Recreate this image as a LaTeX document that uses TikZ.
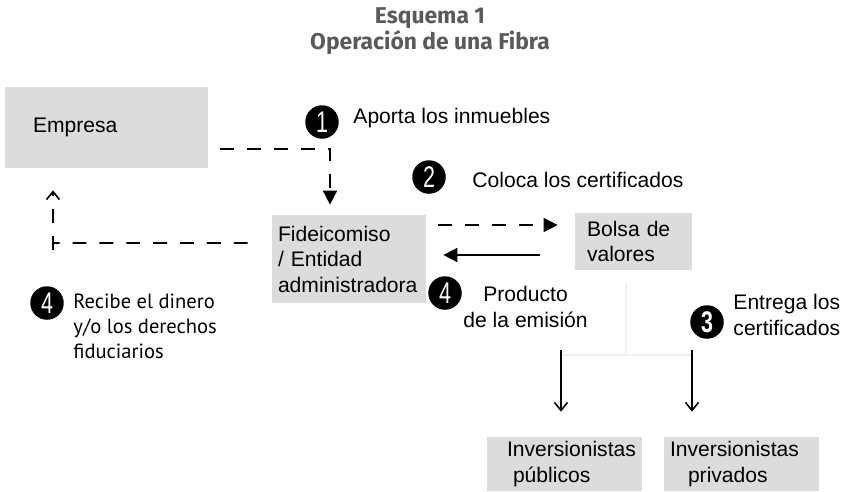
\documentclass[tikz,border=0pt]{standalone}
\usepackage{fontspec}
\setmainfont{Liberation Sans}
\newfontfamily\humfont{PT Sans}
\newfontfamily\ttlfont{Fira Sans}
\usepackage{xcolor}
\usetikzlibrary{positioning,calc,arrows.meta}
\definecolor{boxgray}{HTML}{DCDCDC}
\definecolor{ttlgray}{HTML}{5A5A5A}
% narrow digits in the step circles
\newcommand{\stepdigit}[1]{\scalebox{0.72}[1]{#1}}

\begin{document}
\begin{tikzpicture}[x=0.02cm, y=-0.02cm,
    box/.style={fill=boxgray, align=left, inner ysep=0pt, font=\fontsize{12}{14.5}\selectfont},
    lbl/.style={inner sep=0pt, font=\fontsize{12}{14.5}\selectfont},
    num/.style={circle, fill=black, text=white, inner sep=0pt, minimum size=0.67cm, font=\fontsize{17}{17}\selectfont},
    dsh/.style={line width=0.9pt, dash pattern=on 7.9pt off 7.4pt},
    sld/.style={line width=0.9pt},
    tri/.style={-{Triangle[length=0.28cm, width=0.28cm]}},
    opn/.style={-{Straight Barb[length=0.16cm, width=0.26cm]}},
    faint/.style={line width=0.6pt, black!6}]
    \useasboundingbox (0,0) rectangle (852,491);

    % title
    \node[font=\ttlfont\bfseries\fontsize{13}{14.7}\selectfont, text=ttlgray, align=center] (title) at (430,31) {Esquema 1\\Operación de una Fibra};

    % boxes
    \node[box, text width=2.94cm, inner xsep=0.56cm, minimum height=1.62cm] (empresa) at (106.5,127.5) {Empresa};
    \node[box, text width=2.84cm, inner xsep=0.12cm, minimum height=1.76cm] (fide) at (349,259) {Fideicomiso\\/ Entidad\\administradora};
    \node[box, text width=1.86cm, inner xsep=0.24cm, minimum height=1.14cm] (bolsa) at (633.5,241.5) {Bolsa de\\valores};
    \node[box, text width=2.3cm, inner xsep=0.4cm, minimum height=1.08cm] (pub) at (564.5,464) {Inversionistas\\\hspace*{0.12cm}públicos};
    \node[box, text width=2.86cm, inner xsep=0.12cm, minimum height=1.08cm] (priv) at (741.5,464) {Inversionistas\\\hspace*{0.36cm}privados};

    % numbered steps
    \node[num] (n1) at (322,122) {\stepdigit{1}};
    \node[lbl, right=0.28cm of n1, yshift=0.08cm] (aporta) {Aporta los inmuebles};
    \node[num] (n2) at (429,177) {\stepdigit{2}};
    \node[lbl, right=0.52cm of n2, yshift=-0.06cm] (coloca) {Coloca los certificados};
    \node[num] (n4b) at (445,293) {\stepdigit{4}};
    \node[lbl, align=center, right=0.02cm of n4b, yshift=-0.28cm] (producto) {Producto\\de la emisión};
    \node[num] (n3) at (707,322) {\stepdigit{\bfseries 3}};
    \node[lbl, align=center, right=0.18cm of n3, yshift=0.14cm] (entrega) {Entrega los\\certificados};
    \node[num] (n4a) at (47,303) {\stepdigit{4}};
    \node[lbl, align=left, font=\humfont\fontsize{11.7}{14.3}\selectfont, right=0.18cm of n4a, yshift=-0.46cm] (recibe) {Recibe el dinero\\y/o los derechos\\fiduciarios};

    % connectors
    \draw[dsh, tri, shorten <=0.24cm, shorten >=0.2cm] ([yshift=-0.43cm]empresa.east) -| ([xshift=-0.38cm]fide.north);
    \coordinate (s2) at ([yshift=0.68cm]fide.east);
    \draw[dsh, tri, shorten <=0.24cm, shorten >=0.34cm] (s2) -- (s2 -| bolsa.west);
    \coordinate (s3) at ([yshift=-0.27cm]bolsa.west);
    \draw[sld, tri, shorten <=0.7cm, shorten >=0.34cm] (s3) -- (s3 -| fide.east);
    \coordinate (s4) at ([yshift=0.32cm]fide.west);
    \coordinate (bend) at (53,243);
    \draw[dsh, shorten <=0.48cm] (s4) -- (bend);
    \draw[dsh, opn, shorten >=0.44cm] ([yshift=-0.14cm]bend) -- (bend |- empresa.south);

    \coordinate (fv) at (626,283);
    \coordinate (fh1) at (561,355);
    \coordinate (fh2) at (692,355);
    \draw[faint] (fv) -- (fv |- fh1);
    \draw[faint] (fh1) -- (fh2);
    \coordinate (sp1) at (561,350);
    \coordinate (sp2) at (692,350);
    \draw[sld, opn, shorten >=0.5cm] (sp1) -- (sp1 |- pub.north);
    \draw[sld, opn, shorten >=0.5cm] (sp2) -- (sp2 |- priv.north);
\end{tikzpicture}
\end{document}
